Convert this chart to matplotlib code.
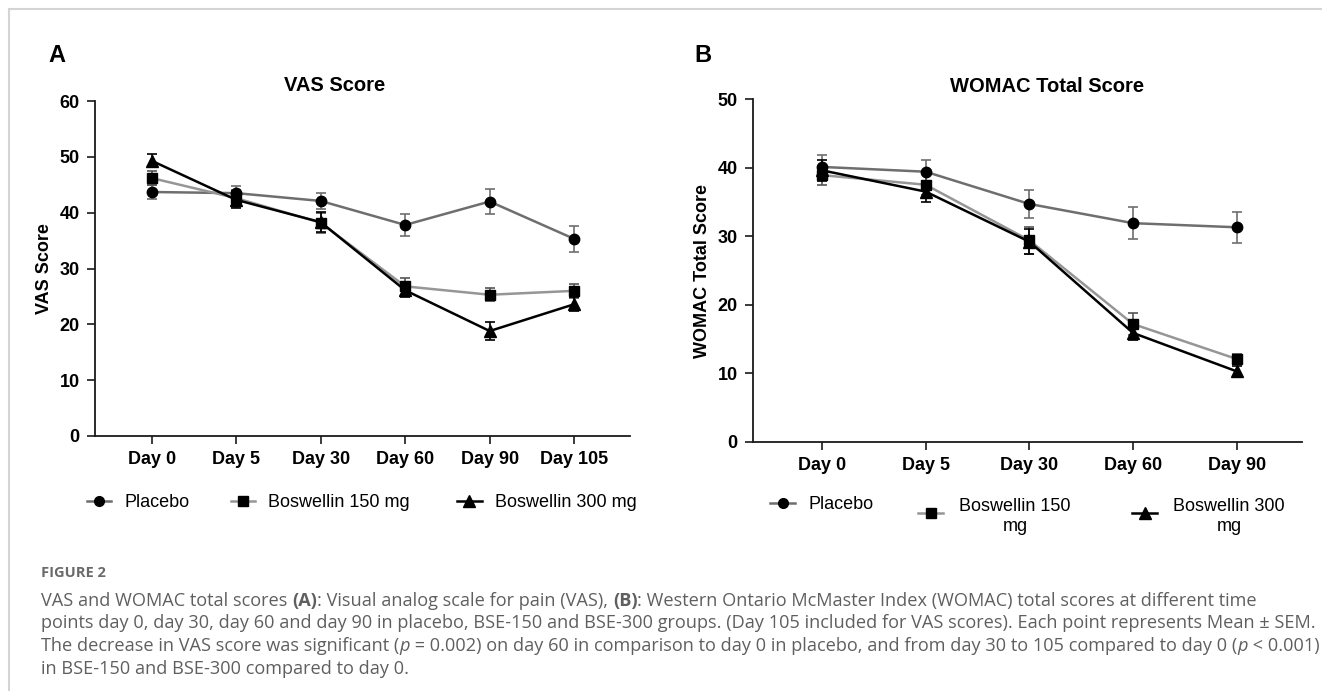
import matplotlib
matplotlib.use("Agg")
import matplotlib.pyplot as plt
from matplotlib.lines import Line2D

# ---------------- data ----------------
days_vas = ['Day 0', 'Day 5', 'Day 30', 'Day 60', 'Day 90', 'Day 105']
vas_placebo = [43.7, 43.5, 42.1, 37.8, 42.0, 35.3]
vas_placebo_sem = [1.2, 1.3, 1.5, 1.9, 2.2, 2.3]
vas_150 = [46.2, 42.6, 38.2, 26.8, 25.3, 26.0]
vas_150_sem = [1.2, 1.5, 1.8, 1.5, 1.2, 1.2]
vas_300 = [49.3, 42.3, 38.3, 26.1, 18.8, 23.6]
vas_300_sem = [1.2, 1.5, 1.8, 1.2, 1.6, 1.3]

days_womac = ['Day 0', 'Day 5', 'Day 30', 'Day 60', 'Day 90']
womac_placebo = [40.1, 39.4, 34.7, 31.9, 31.3]
womac_placebo_sem = [1.8, 1.75, 2.0, 2.3, 2.3]
womac_150 = [38.9, 37.5, 29.4, 17.2, 12.1]
womac_150_sem = [1.4, 1.5, 2.0, 1.6, 0.7]
womac_300 = [39.6, 36.5, 29.2, 15.9, 10.3]
womac_300_sem = [1.5, 1.5, 1.8, 1.1, 0.8]

series_names = ['Placebo', 'Boswellin 150 mg', 'Boswellin 300 mg']
vas_yticks = [0, 10, 20, 30, 40, 50, 60]
womac_yticks = [0, 10, 20, 30, 40, 50]

# ---------------- style ----------------
W, H = 1322, 691
plt.rcParams['font.family'] = ['Liberation Sans', 'DejaVu Sans']
line_colors = ['#6e6e6e', '#969696', '#000000']
markers = ['o', 's', '^']

fig = plt.figure(figsize=(W / 100, H / 100), dpi=100)


def fx(px):
    return px / W


def fy(py):
    return 1 - py / H


def make_axes(l, r, t, b):
    return fig.add_axes([fx(l), fy(b), fx(r) - fx(l), fy(t) - fy(b)])


def style_axes(ax, cats, yticks, xlim):
    for s in ['top', 'right']:
        ax.spines[s].set_visible(False)
    for s in ['left', 'bottom']:
        ax.spines[s].set_linewidth(1.3)
        ax.spines[s].set_color('#1a1a1a')
    ax.set_xticks(range(len(cats)))
    ax.set_xticklabels(cats)
    ax.set_yticks(yticks)
    ax.set_ylim(yticks[0], yticks[-1])
    ax.set_xlim(*xlim)
    ax.tick_params(axis='both', direction='out', length=6, width=1.2,
                   colors='#1a1a1a', labelsize=13, pad=5)
    for lab in ax.get_xticklabels() + ax.get_yticklabels():
        lab.set_fontweight('bold')
        lab.set_color('black')


def plot_series(ax, vals_list, sems_list):
    n = len(vals_list[0])
    x = list(range(n))
    for vals, sems, c, m in zip(vals_list, sems_list, line_colors, markers):
        ax.errorbar(x, vals, yerr=sems, color=c, ecolor=c if c != '#969696' else '#555555',
                    elinewidth=1.2, capsize=3.8, capthick=1.2, lw=1.8,
                    marker=m, ms=7.5 if m != '^' else 8, mfc='black', mec='black',
                    zorder=3, clip_on=False)


# Panel A
axA = make_axes(95, 630, 101, 436)
plot_series(axA, [vas_placebo, vas_150, vas_300], [vas_placebo_sem, vas_150_sem, vas_300_sem])
style_axes(axA, days_vas, vas_yticks, (-0.67, 5.66))
axA.set_ylabel('VAS Score', fontsize=13, fontweight='bold', labelpad=4.5)

# Panel B
axB = make_axes(753, 1302, 99, 442)
plot_series(axB, [womac_placebo, womac_150, womac_300],
            [womac_placebo_sem, womac_150_sem, womac_300_sem])
style_axes(axB, days_womac, womac_yticks, (-0.665, 4.63))
axB.set_ylabel('WOMAC Total Score', fontsize=13, fontweight='bold', labelpad=4.5)

# titles and panel letters
fig.text(fx(335), fy(91), 'VAS Score', ha='center', va='baseline', fontsize=14.5, fontweight='bold')
fig.text(fx(1047), fy(92), 'WOMAC Total Score', ha='center', va='baseline', fontsize=14.5, fontweight='bold')
fig.text(fx(48), fy(62), 'A', ha='left', va='baseline', fontsize=17, fontweight='bold')
fig.text(fx(694), fy(62), 'B', ha='left', va='baseline', fontsize=17, fontweight='bold')


# legends (drawn manually)
def legend_item(x0, x1, yh, color, marker, tx, ty, label, ha='left'):
    fig.add_artist(Line2D([fx(x0), fx(x1)], [fy(yh), fy(yh)], color=color, lw=1.8,
                          transform=fig.transFigure))
    fig.add_artist(Line2D([fx((x0 + x1) / 2)], [fy(yh)], marker=marker, ms=7 if marker != '^' else 8,
                          mfc='black', mec='black', color=color, transform=fig.transFigure))
    fig.text(fx(tx), fy(ty), label, ha=ha, va='baseline', fontsize=13,
             multialignment='center', linespacing=1.2)


legend_item(87, 111, 501, line_colors[0], 'o', 124, 507, series_names[0])
legend_item(231, 255, 501, line_colors[1], 's', 268, 507, series_names[1])
legend_item(457, 482, 501, line_colors[2], '^', 495, 507, series_names[2])

legend_item(770, 795, 503, line_colors[0], 'o', 808, 509, series_names[0])
legend_item(918, 943, 513, line_colors[1], 's', 1015, 531, 'Boswellin 150\nmg', ha='center')
legend_item(1132, 1157, 513, line_colors[2], '^', 1229, 531, 'Boswellin 300\nmg', ha='center')

# frame lines
fig.add_artist(Line2D([fx(9), 1.0], [fy(9), fy(9)], color='#d4d4d4', lw=1.5, transform=fig.transFigure))
fig.add_artist(Line2D([fx(9), fx(9)], [fy(9), 0.0], color='#d4d4d4', lw=1.5, transform=fig.transFigure))

# caption
cap_font = ['Open Sans', 'DejaVu Sans']
cap_color = '#5f5f5f'

caption_lines = [
    [("VAS and WOMAC total scores ", 'normal', 'normal'), ("(A)", 'bold', 'normal'),
     (": Visual analog scale for pain (VAS), ", 'normal', 'normal'), ("(B)", 'bold', 'normal'),
     (": Western Ontario McMaster Index (WOMAC) total scores at different time", 'normal', 'normal')],
    [("points day 0, day 30, day 60 and day 90 in placebo, BSE-150 and BSE-300 groups. "
      "(Day 105 included for VAS scores). Each point represents Mean \u00b1 SEM.", 'normal', 'normal')],
    [("The decrease in VAS score was significant (", 'normal', 'normal'), ("p", 'normal', 'italic'),
     (" = 0.002) on day 60 in comparison to day 0 in placebo, and from day 30 to 105 compared to day 0 (",
      'normal', 'normal'), ("p", 'normal', 'italic'), (" < 0.001)", 'normal', 'normal')],
    [("in BSE-150 and BSE-300 compared to day 0.", 'normal', 'normal')],
]
cap_baselines = [606, 628.5, 651, 673.5]

renderer = fig.canvas.get_renderer()
# fit caption size so that the second line spans the text column (41 .. 1316 px)
probe = fig.text(0, 0, caption_lines[1][0][0], fontsize=10, family=cap_font)
probe_w = probe.get_window_extent(renderer=renderer).width
probe.remove()
cap_size = 10 * (1316 - 41) / probe_w

fig.text(fx(41), fy(577), 'FIGURE 2', ha='left', va='baseline', fontsize=10.5,
         fontweight='bold', color='#6a6a6a', family=cap_font)

for segs, base in zip(caption_lines, cap_baselines):
    x = 41.0
    for txt, wt, st in segs:
        t = fig.text(fx(x), fy(base), txt, ha='left', va='baseline', fontsize=cap_size,
                     fontweight=wt, fontstyle=st, color=cap_color, family=cap_font)
        bb = t.get_window_extent(renderer=renderer)
        x += bb.width

fig.savefig('out.png', dpi=100)
